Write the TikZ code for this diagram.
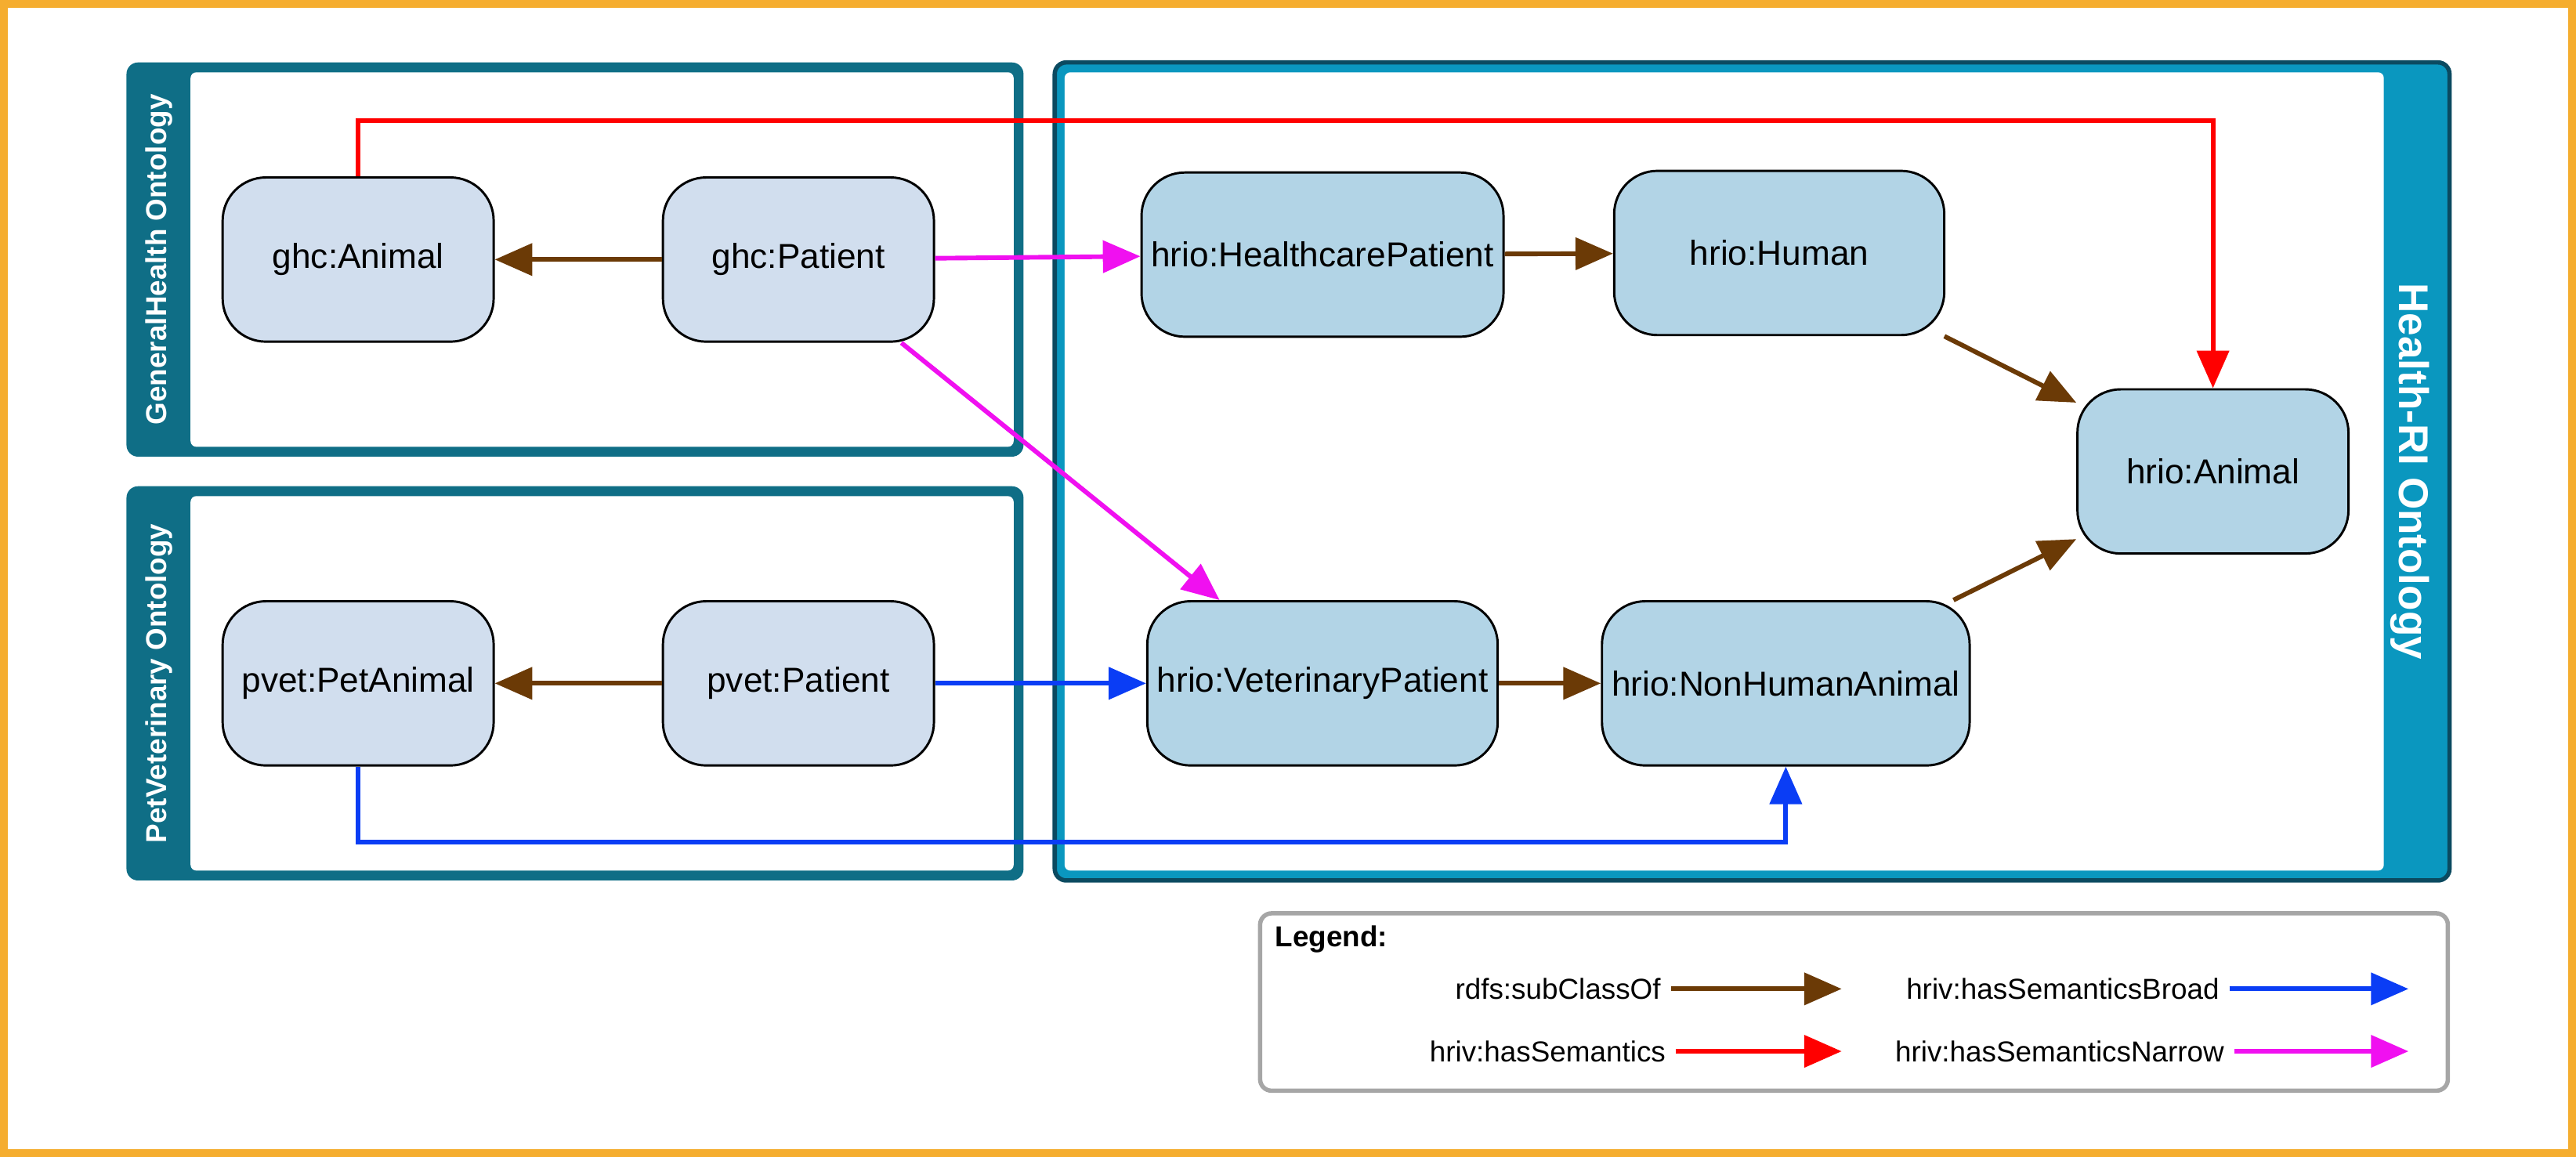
\documentclass[tikz,border=0pt]{standalone}
\usepackage{fontspec}
\setmainfont{Liberation Sans}
\usepackage{tikz}
\usetikzlibrary{arrows.meta}
\definecolor{framec}{HTML}{F5AD2F}
\definecolor{tealc}{HTML}{0F6E86}
\definecolor{hriblue}{HTML}{0A97BF}
\definecolor{hriborder}{HTML}{0B4A60}
\definecolor{srcfill}{HTML}{D1DEEE}
\definecolor{hriofill}{HTML}{B2D4E6}
\definecolor{subc}{HTML}{6B3A06}
\definecolor{broadc}{HTML}{0A3DF5}
\definecolor{narrowc}{HTML}{F010F0}
\tikzset{
  >={Triangle[length=13pt,width=11pt]},
  concept/.style={draw, thick, rectangle, rounded corners=15pt, minimum width=3.3cm, minimum height=2cm, font=\large},
  rel/.style={->, line width=1.6pt}
}

\begin{document}
\begin{tikzpicture}[x=0.02cm, y=-0.02cm]
    \useasboundingbox (0,0) rectangle (1568,704);
    \draw[framec, line width=3pt] (2,2) rectangle (1566,702);

    % Containers
    \fill[tealc, rounded corners=4pt] (77,38) rectangle (623,278);
    \fill[white, rounded corners=2pt] (116,44) rectangle (617,272);
    \fill[tealc, rounded corners=4pt] (77,296) rectangle (623,536);
    \fill[white, rounded corners=2pt] (116,302) rectangle (617,530);
    \filldraw[fill=hriblue, draw=hriborder, line width=1.5pt, rounded corners=4pt] (642,38) rectangle (1491,536);
    \fill[white, rounded corners=2pt] (648,44) rectangle (1451,530);
    \node[rotate=90, text=white, font=\bfseries] (ghctitle) at (97,158) {GeneralHealth Ontology};
    \node[rotate=90, text=white, font=\bfseries] (pvettitle) at (97,416) {PetVeterinary Ontology};
    \node[rotate=-90, text=white, font=\Large\bfseries] (hrititle) at (1467,287) {Health-RI Ontology};

    % Place nodes
    \node[concept, fill=srcfill] (ghcanimal) at (218,158) {ghc:Animal};
    \node[concept, fill=srcfill] (ghcpatient) at (486,158) {ghc:Patient};
    \node[concept, fill=srcfill] (pvetanimal) at (218,416) {pvet:PetAnimal};
    \node[concept, fill=srcfill] (pvetpatient) at (486,416) {pvet:Patient};
    \node[concept, fill=hriofill, minimum width=4.02cm] (hcpatient) at (805,155) {hrio:HealthcarePatient};
    \node[concept, fill=hriofill, minimum width=4.02cm] (human) at (1083,154) {hrio:Human};
    \node[concept, fill=hriofill] (hrioanimal) at (1347,287) {hrio:Animal};
    \node[concept, fill=hriofill, minimum width=4.02cm] (vetpatient) at (805,416) {hrio:VeterinaryPatient};
    \node[concept, fill=hriofill, minimum width=4.18cm] (nonhuman) at (1087,416) {hrio:NonHumanAnimal};

    % Draw edges
    \draw[rel, subc] (ghcpatient) -- (ghcanimal);
    \draw[rel, subc] (pvetpatient) -- (pvetanimal);
    \draw[rel, subc] (hcpatient) -- (human);
    \draw[rel, subc] (vetpatient) -- (nonhuman);
    \draw[rel, subc] (human) -- (hrioanimal);
    \draw[rel, subc] (nonhuman) -- (hrioanimal);
    \draw[rel, narrowc] (ghcpatient) -- (hcpatient);
    \draw[rel, narrowc] (ghcpatient) -- (vetpatient);
    \draw[rel, broadc] (pvetpatient) -- (vetpatient);
    \draw[rel, broadc] (pvetanimal.south) -- ++(0,46) -| (nonhuman.south);
    \draw[rel, red] (ghcanimal.north) -- ++(0,-34) -| (hrioanimal.north);

    % Legend
    \draw[gray!70, line width=1.5pt, fill=white, rounded corners=4pt] (767,556) rectangle (1490,664);
    \node[anchor=west, font=\bfseries] (legend) at (770,572) {Legend:};
    \node[anchor=east] (lsub) at (1017,602) {rdfs:subClassOf};
    \node[anchor=east] (lsem) at (1020,640) {hriv:hasSemantics};
    \node[anchor=east] (lbroad) at (1357,602) {hriv:hasSemanticsBroad};
    \node[anchor=east] (lnarrow) at (1360,640) {hriv:hasSemanticsNarrow};
    \coordinate (esub) at (1121,602);
    \coordinate (esem) at (1121,640);
    \coordinate (ebroad) at (1466,602);
    \coordinate (enarrow) at (1466,640);
    \draw[rel, subc] (lsub) -- (esub);
    \draw[rel, red] (lsem) -- (esem);
    \draw[rel, broadc] (lbroad) -- (ebroad);
    \draw[rel, narrowc] (lnarrow) -- (enarrow);
\end{tikzpicture}
\end{document}
